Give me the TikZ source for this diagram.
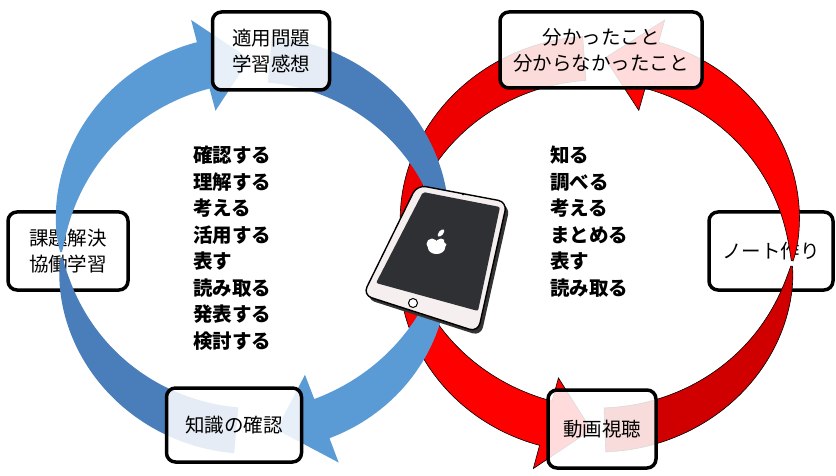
\documentclass[tikz,border=0pt]{standalone}
\usepackage{fontspec}
\newfontfamily\jp{Noto Sans CJK JP}

\definecolor{bluelite}{HTML}{5B9BD5}
\definecolor{bluedark}{HTML}{4A7EBB}
\definecolor{redlite}{HTML}{FF0000}
\definecolor{reddark}{HTML}{D00000}
\definecolor{redback}{HTML}{EE0000}
\definecolor{padbody}{HTML}{F6EFEF}
\definecolor{padscreen}{HTML}{2E3033}

\tikzset{
  card/.style={draw, line width=3.5pt, rounded corners=9pt, fill=white, align=center,
    inner sep=0pt, font=\jp\fontsize{19.5}{26}\selectfont},
  glasscard/.style={card, fill opacity=0.86, text opacity=1},
  verbs/.style={align=left, inner sep=0pt, anchor=north west,
    font=\jp\bfseries\fontsize{19.5}{26.5}\selectfont},
  redpart/.style={draw=black, line width=0.6pt}
}

% twisted half of a ribbon: cx,cy,rx,ry, twist angle, end angle, width, style
\newcommand{\ribbon}[8]{%
  \path[#8] plot[domain=0.01:1,samples=60]
      ({#1+(#3+0.5*#7*pow(sin(90*\x),0.8))*cos(#5+(#6-#5)*\x)},
       {#2-(#4+0.5*#7*pow(sin(90*\x),0.8))*sin(#5+(#6-#5)*\x)})
    -- plot[domain=1:0.01,samples=60]
      ({#1+(#3-0.5*#7*pow(sin(90*\x),0.8))*cos(#5+(#6-#5)*\x)},
       {#2-(#4-0.5*#7*pow(sin(90*\x),0.8))*sin(#5+(#6-#5)*\x)})
    -- cycle;}
% front half with the head: cx,cy,rx,ry, twist, head base, tip, width, style
\newcommand{\ribbonhead}[9]{%
  \path[#9] plot[domain=0.01:1,samples=60]
      ({#1+(#3+0.5*#8*pow(sin(90*\x),0.8))*cos(#5+(#6-#5)*\x)},
       {#2-(#4+0.5*#8*pow(sin(90*\x),0.8))*sin(#5+(#6-#5)*\x)})
    -- ({#1+(#3+47)*cos(#6)},{#2-(#4+47)*sin(#6)})
    -- ({#1+#3*cos(#7)},{#2-#4*sin(#7)})
    -- ({#1+(#3-47)*cos(#6)},{#2-(#4-47)*sin(#6)})
    -- plot[domain=1:0.01,samples=60]
      ({#1+(#3-0.5*#8*pow(sin(90*\x),0.8))*cos(#5+(#6-#5)*\x)},
       {#2-(#4-0.5*#8*pow(sin(90*\x),0.8))*sin(#5+(#6-#5)*\x)})
    -- cycle;}

\begin{document}
\begin{tikzpicture}[x=1pt,y=-1pt]
  \useasboundingbox (0,0) rectangle (836,476);

  % boxes that the ribbons pass over
  \node[card, minimum width=120, minimum height=78] (task) at (68,251) {課題解決\\協働学習};
  \node[card, minimum width=124, minimum height=78] (note) at (771,251) {ノート作り};

  % red ring, counterclockwise
  \ribbon{598}{244}{195}{186}{354}{272}{44}{fill=reddark,redpart}
  \ribbonhead{598}{244}{195}{186}{-6}{74}{88}{48}{fill=redlite,redpart}
  \ribbon{598}{244}{195}{186}{180}{94}{44}{fill=redback,redpart}
  \ribbonhead{598}{244}{195}{186}{180}{254.5}{268}{46}{fill=redlite,redpart}

  % blue ring, clockwise
  \ribbon{253}{245}{192}{186}{183}{265}{46}{fill=bluedark}
  \ribbonhead{253}{245}{192}{186}{183}{105}{91}{48}{fill=bluelite}
  \ribbon{253}{245}{192}{186}{-2}{85}{46}{fill=bluedark}
  \ribbonhead{253}{245}{192}{186}{-2}{-69}{-83}{42}{fill=bluelite}

  % tablet
  \fill[black!80, rounded corners=9] (421,189) -- (510,206) -- (481,336) -- (366,299) -- cycle;
  \draw[fill=padbody, line width=1.4pt, rounded corners=9] (417,185) -- (507,202) -- (478,332) -- (363,295) -- cycle;
  \fill[padscreen, rounded corners=2] (423,192) -- (500,207) -- (478,311) -- (376,283) -- cycle;
  \draw[fill=white, line width=1pt] (413,303) circle (4.5);
  \fill (463,194) circle (1.3);
  % apple
  \fill[white] (432,244) circle (5.5) (441,244) circle (5.5) (436.5,248) ellipse (8.5 and 6);
  \fill[padscreen] (447,241) circle (3);
  \fill[white, rotate around={-40:(441,233)}] (441,233) ellipse (2.2 and 4.5);

  % boxes on top
  \node[glasscard, minimum width=117, minimum height=78] (apply) at (271,51) {適用問題\\学習感想};
  \node[glasscard, minimum width=135, minimum height=74] (check) at (234,425) {知識の確認};
  \node[glasscard, minimum width=202, minimum height=76] (learnt) at (601,50) {分かったこと\\分からなかったこと};
  \node[glasscard, minimum width=108, minimum height=78] (video) at (602,429) {動画視聴};

  \node[verbs] (deepverbs) at (193,146) {確認する\\理解する\\考える\\活用する\\表す\\読み取る\\発表する\\検討する};
  \node[verbs] (basicverbs) at (550,146) {知る\\調べる\\考える\\まとめる\\表す\\読み取る};
\end{tikzpicture}
\end{document}
